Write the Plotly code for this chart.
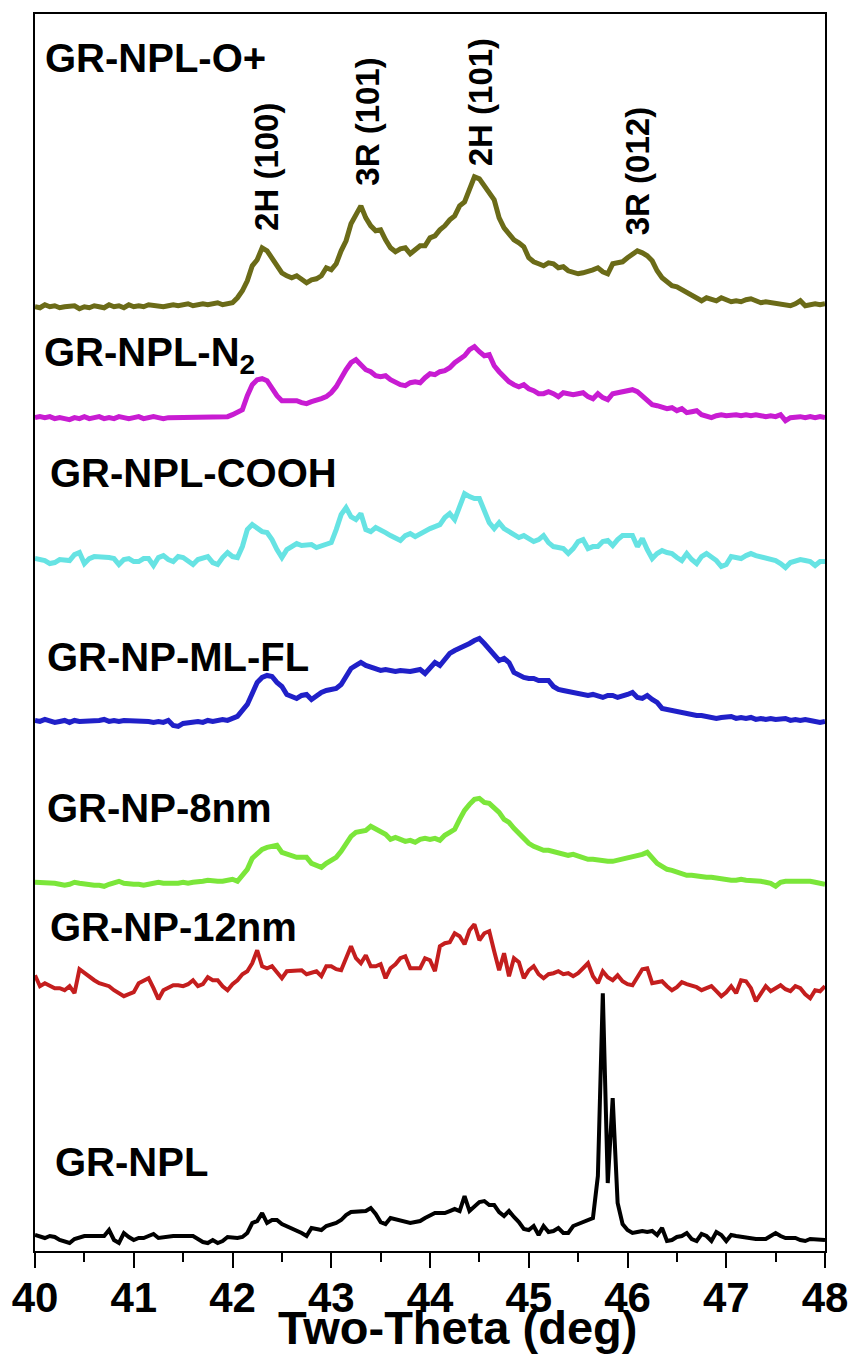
import numpy as np
import plotly.graph_objects as go

# Two-theta grid (deg), step 0.05
two_theta = [round(40 + 0.05 * i, 2) for i in range(161)]

# Intensities (arbitrary units), relative to each trace baseline
gr_npl_o = (
    [-1, -2, 1, -1, 0, -2, -1, 0, 0, -3, -1, -2, 0, -1, -2, 1, -1, 0, -2, 1]
    + [-1, 0, -1, 1, 0, -1, -1, 0, 1, 0, 1, 2, 0, 1, 2, 1, 2, 3, 1, 2]
    + [3, 8, 15, 25, 40, 46, 58, 55, 48, 40, 33, 30, 28, 30, 26, 23, 26, 27, 30, 38]
    + [36, 42, 55, 65, 82, 92, 100, 88, 80, 75, 76, 66, 58, 54, 57, 58, 52, 56, 60, 60]
    + [68, 70, 76, 80, 86, 90, 100, 104, 118, 129, 127, 120, 112, 106, 88, 78, 72, 66, 63, 59]
    + [48, 44, 42, 40, 43, 42, 38, 39, 35, 34, 32, 33, 34, 36, 38, 34, 32, 42, 43, 44]
    + [48, 52, 55, 53, 50, 45, 35, 28, 24, 20, 19, 16, 14, 10, 8, 5, 8, 6, 5, 8]
    + [6, 4, 5, 4, 6, 7, 5, 3, 4, 3, 2, 1, 1, 0, 2, 5, 0, 1, 2, 1]
    + [2]
)
gr_npl_n2 = (
    [0, 1, 0, 1, -1, 0, -1, -2, 0, -1, 1, -1, 0, 1, -1, 0, -1, 1, 0, -1]
    + [0, 1, -1, 0, 1, 0, -1, 0, 0, 1, 0, 1, 0, 1, 0, 1, 0, 1, 0, 1]
    + [3, 5, 8, 22, 33, 38, 39, 37, 29, 22, 17, 17, 16, 17, 15, 14, 16, 17, 19, 21]
    + [25, 31, 40, 48, 55, 58, 53, 48, 46, 42, 41, 42, 38, 35, 33, 32, 35, 36, 35, 40]
    + [44, 43, 46, 47, 50, 55, 58, 62, 68, 71, 66, 62, 63, 52, 46, 41, 36, 33, 31, 33]
    + [29, 27, 24, 24, 26, 24, 21, 25, 24, 23, 24, 25, 21, 19, 24, 20, 18, 24, 25, 26]
    + [27, 28, 26, 22, 17, 13, 12, 11, 9, 10, 7, 9, 5, 6, 7, 3, 2, 0, 2, 3]
    + [2, 3, 3, 2, 3, 2, 3, 2, 1, 2, 1, 3, -3, 0, 1, 1, 0, 1, 0, 1]
    + [0]
)
gr_npl_cooh = (
    [1, 0, -1, -4, -3, 0, -1, -1, 5, 7, -4, 1, 3, 3, 3, 2, 1, -5, 0, 1]
    + [-2, -2, 1, 1, -6, 2, 4, 0, -2, 3, 2, -2, -5, 0, 1, 3, -3, -5, 2, 7]
    + [3, 2, 13, 30, 35, 32, 28, 27, 20, 10, 2, 10, 13, 16, 14, 14, 15, 12, 14, 16]
    + [17, 30, 45, 52, 43, 40, 46, 30, 28, 32, 30, 27, 24, 22, 19, 24, 26, 23, 26, 29]
    + [31, 33, 35, 42, 46, 40, 55, 66, 63, 61, 61, 48, 37, 31, 37, 31, 28, 24, 22, 24]
    + [21, 18, 20, 24, 17, 13, 12, 11, 6, 11, 18, 20, 11, 13, 13, 18, 19, 14, 20, 24]
    + [24, 24, 13, 21, 10, 1, 6, 9, 7, 6, 2, -1, 6, 0, -4, 3, 6, 3, -1, -7]
    + [-5, 3, 2, 1, 4, 6, 4, 3, 1, 1, -1, -4, -8, -3, -2, 0, -1, -2, -6, -2]
    + [-2]
)
gr_np_ml_fl = (
    [0, -1, 1, -1, -2, -1, 0, -2, 0, -1, -1, 0, -1, 0, 1, -1, 0, -1, 0, 0]
    + [-1, -1, 0, -1, -2, -1, -2, 0, -5, -6, -3, -2, -2, -1, -2, 0, -1, 0, 1, 0]
    + [2, 4, 10, 16, 27, 38, 43, 45, 44, 38, 34, 26, 24, 22, 25, 26, 21, 25, 28, 30]
    + [31, 32, 36, 45, 52, 55, 58, 55, 53, 51, 50, 51, 50, 49, 50, 49, 49, 50, 51, 47]
    + [53, 58, 55, 62, 67, 70, 72, 74, 77, 80, 82, 77, 71, 66, 60, 62, 58, 48, 45, 43]
    + [42, 42, 40, 40, 40, 34, 31, 30, 29, 28, 28, 27, 25, 26, 25, 23, 25, 25, 23, 24]
    + [26, 28, 23, 22, 25, 21, 18, 12, 11, 9, 8, 7, 7, 6, 5, 5, 4, 4, 2, 3]
    + [4, 4, 2, 3, 2, 3, 1, 2, 1, 2, 1, 1, 2, 0, 1, 0, 1, 0, -1, -2]
    + [-1]
)
gr_np_8nm = (
    [1, 1, 0, 1, 0, -1, -2, -1, 1, 0, -1, -1, -2, -2, -3, -1, 1, 2, 0, -1]
    + [-1, -1, -2, -1, 0, 1, 0, 0, -1, 0, 1, 0, 1, 1, 2, 3, 2, 2, 2, 3]
    + [4, 2, 8, 14, 25, 30, 34, 36, 37, 38, 31, 29, 27, 26, 26, 26, 20, 18, 16, 20]
    + [23, 26, 32, 40, 47, 51, 52, 53, 57, 54, 52, 49, 44, 46, 44, 42, 43, 41, 44, 45]
    + [44, 45, 43, 48, 51, 54, 64, 73, 79, 84, 85, 81, 80, 76, 71, 64, 61, 55, 50, 44]
    + [40, 37, 35, 33, 33, 32, 31, 29, 28, 29, 27, 25, 24, 24, 23, 22, 22, 22, 23, 24]
    + [25, 26, 28, 29, 31, 25, 20, 17, 14, 13, 11, 9, 8, 8, 7, 7, 6, 6, 5, 4]
    + [4, 3, 3, 4, 3, 3, 3, 2, 1, 0, -3, 1, 2, 2, 3, 3, 3, 2, 1, 0]
    + [-1]
)
gr_np_12nm = (
    [13, 2, 5, 3, 0, 0, -2, 2, -5, 19, 15, 12, 8, 5, 4, 2, -2, -5, -8, -6]
    + [-4, 5, 7, 10, 0, -11, -2, 0, 3, 3, 2, 4, 8, 2, 4, 11, 8, 8, 2, -2]
    + [4, 8, 14, 17, 25, 38, 22, 20, 22, 16, 10, 17, 17, 18, 18, 14, 16, 17, 12, 22]
    + [22, 19, 18, 30, 42, 30, 25, 33, 22, 22, 24, 10, 20, 24, 30, 32, 20, 20, 20, 30]
    + [28, 17, 42, 45, 46, 55, 52, 44, 58, 64, 48, 55, 57, 37, 18, 35, 12, 30, 26, 10]
    + [18, 22, 14, 10, 14, 15, 17, 14, 15, 12, 15, 20, 25, 12, 5, 17, 11, 8, 13, 7]
    + [4, 3, 12, 19, 20, 5, 6, 7, 2, -2, 1, 6, 4, 3, 1, -2, 0, 2, -3, -8]
    + [-4, 2, -5, 8, 7, 0, -13, -5, 2, -3, 0, 3, -1, -3, 2, 0, -6, -10, -2, -3]
    + [2]
)
gr_npl = (
    [3, 1, 0, 2, 1, -2, -4, -5, -1, 1, 2, 2, 2, 2, 2, 8, -2, -5, 5, 1]
    + [-2, 0, 0, 2, 4, 0, 1, 1, 2, 2, 2, 2, 2, -1, -4, -5, -2, -5, -3, 1]
    + [0, 0, 1, 5, 15, 17, 25, 15, 18, 18, 14, 12, 10, 8, 5, 2, 10, 9, 8, 12]
    + [13, 15, 18, 23, 26, 26, 26, 27, 30, 24, 16, 14, 20, 19, 18, 16, 15, 16, 17, 20]
    + [22, 25, 25, 25, 27, 29, 27, 42, 27, 32, 36, 37, 33, 33, 26, 22, 27, 21, 16, 9]
    + [8, 12, 3, 12, 6, 7, 10, 5, 5, 12, 14, 15, 17, 20, 62, 245, 55, 140, 35, 14]
    + [8, 5, 6, 7, 6, 7, 3, 10, -3, -2, 1, 2, 5, -1, -3, 4, 2, -3, 6, 3]
    + [-3, 3, 2, 1, 0, -1, -1, -1, -1, 2, 5, 2, 0, 0, 0, -2, -3, -1, -1, -1]
    + [-2]
)

series_names = ["GR-NPL-O+", "GR-NPL-N<sub>2</sub>", "GR-NPL-COOH", "GR-NP-ML-FL",
                "GR-NP-8nm", "GR-NP-12nm", "GR-NPL"]
series_values = [gr_npl_o, gr_npl_n2, gr_npl_cooh, gr_np_ml_fl, gr_np_8nm, gr_np_12nm, gr_npl]
series_offsets = [946, 834, 692, 531, 368, 263, 13]
series_colors = ["#6b6b18", "#c81cd2", "#66e3e3", "#2020c8", "#7be63a", "#c41e1e", "#000000"]
series_widths = [5, 5, 5, 5, 5, 4, 4]

# label anchor (x deg, y data)
label_pos = [(40.08, 1194), (40.07, 897), (40.13, 779), (40.10, 594),
             (40.10, 443), (40.13, 324), (40.18, 89)]

peak_labels = ["2H (100)", "3R (101)", "2H (101)", "3R (012)"]
peak_pos = [(42.35, 1085), (43.37, 1130), (44.52, 1150), (46.10, 1081)]

x_ticks = [40, 41, 42, 43, 44, 45, 46, 47, 48]

fig = go.Figure()
for name, vals, off, col, w in zip(series_names, series_values, series_offsets,
                                   series_colors, series_widths):
    y = [v + off for v in vals]
    fig.add_trace(go.Scatter(x=two_theta, y=y, mode="lines", name=name,
                             line=dict(color=col, width=w), showlegend=False))

label_font = dict(family="Liberation Sans, Arial, sans-serif", size=40, color="black")
for name, (lx, ly) in zip(series_names, label_pos):
    fig.add_annotation(x=lx, y=ly, xref="x", yref="y", text="<b>" + name + "</b>",
                       showarrow=False, xanchor="left", yanchor="middle", font=label_font)

peak_font = dict(family="Liberation Sans, Arial, sans-serif", size=33, color="black")
for txt, (px, py) in zip(peak_labels, peak_pos):
    fig.add_annotation(x=px, y=py, xref="x", yref="y", text="<b>" + txt + "</b>",
                       showarrow=False, textangle=-90, xanchor="center", yanchor="middle",
                       font=peak_font)

fig.add_annotation(x=0.535, y=-0.0622, xref="paper", yref="paper",
                   text="<b>Two-Theta (deg)</b>", showarrow=False,
                   xanchor="center", yanchor="middle",
                   font=dict(family="Liberation Sans, Arial, sans-serif", size=47, color="black"))

fig.update_xaxes(range=[40, 48], tickvals=x_ticks, ticktext=[str(t) for t in x_ticks],
                 ticks="outside", ticklen=15, tickwidth=2, tickcolor="black",
                 minor=dict(dtick=0.5, ticks="outside", ticklen=9, tickwidth=2, tickcolor="black"),
                 showline=True, linecolor="black", linewidth=2, mirror=True,
                 showgrid=False, zeroline=False, ticklabelstandoff=-6,
                 ticklabeloverflow="allow",
                 tickfont=dict(family="Liberation Sans, Arial, sans-serif",
                               size=42, color="black", weight="bold"))
fig.update_yaxes(range=[0, 1238], showticklabels=False, ticks="", showgrid=False,
                 zeroline=False, showline=True, linecolor="black", linewidth=2, mirror=True)

fig.update_layout(width=860, height=1355, margin=dict(l=35, r=25, t=13, b=104),
                  plot_bgcolor="white", paper_bgcolor="white")

fig.write_html("out.html", config={"displayModeBar": False},
               post_script=("document.body.style.margin='0';"
                            "document.body.style.overflow='hidden';"
                            "document.documentElement.style.overflow='hidden';"))
